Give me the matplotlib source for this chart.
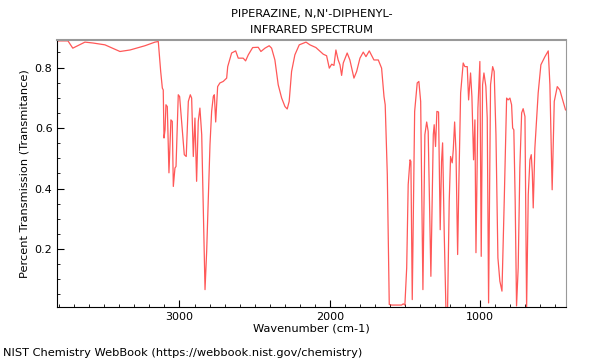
import matplotlib
matplotlib.use("Agg")
import matplotlib.pyplot as plt
from matplotlib.ticker import MultipleLocator

title = "PIPERAZINE, N,N'-DIPHENYL-\nINFRARED SPECTRUM"
xlabel = "Wavenumber (cm-1)"
ylabel = "Percent Transmission (Transmitance)"
footer = "NIST Chemistry WebBook (https://webbook.nist.gov/chemistry)"

wavenumber = [3813, 3742, 3710, 3629, 3575, 3496, 3396, 3329, 3230, 3163, 3141, 3125, 3114, 3108,
              3103, 3096, 3090, 3081, 3070, 3057, 3048, 3041, 3030, 3023, 3008, 2999, 2968, 2955,
              2941, 2928, 2919, 2908, 2897, 2886, 2875, 2864, 2852, 2830, 2819, 2797, 2786, 2775,
              2768, 2759, 2746, 2731, 2709, 2686, 2679, 2653, 2626, 2609, 2576, 2560, 2542, 2513,
              2476, 2458, 2431, 2403, 2387, 2365, 2343, 2320, 2298, 2283, 2270, 2254, 2232, 2203,
              2158, 2132, 2092, 2043, 2021, 2003, 1987, 1972, 1959, 1944, 1932, 1921, 1910, 1884,
              1866, 1839, 1821, 1799, 1777, 1759, 1737, 1706, 1677, 1655, 1639, 1631, 1617, 1604,
              1588, 1522, 1511, 1500, 1488, 1478, 1466, 1460, 1451, 1435, 1418, 1407, 1395, 1387,
              1380, 1367, 1355, 1345, 1327, 1311, 1305, 1296, 1287, 1276, 1265, 1256, 1249, 1238,
              1227, 1216, 1205, 1196, 1185, 1178, 1169, 1160, 1149, 1141, 1129, 1112, 1101, 1085,
              1076, 1063, 1054, 1043, 1034, 1027, 1014, 1001, 992, 983, 974, 961, 952, 943, 930,
              916, 906, 894, 881, 868, 854, 839, 823, 813, 801, 790, 783, 775, 766, 757, 746, 735,
              723, 713, 701, 690, 679, 668, 659, 652, 646, 635, 613, 595, 568, 546, 535, 520, 506,
              486, 469, 431]
transmittance = [0.888, 0.888, 0.864, 0.884, 0.881, 0.875, 0.853, 0.858, 0.872, 0.884, 0.886, 0.787,
                 0.732, 0.726, 0.567, 0.594, 0.677, 0.671, 0.452, 0.627, 0.622, 0.407, 0.468, 0.473,
                 0.710, 0.704, 0.512, 0.506, 0.688, 0.710, 0.699, 0.506, 0.633, 0.424, 0.622, 0.666,
                 0.578, 0.066, 0.193, 0.545, 0.655, 0.704, 0.710, 0.620, 0.737, 0.749, 0.754, 0.765,
                 0.803, 0.848, 0.855, 0.831, 0.831, 0.822, 0.842, 0.866, 0.867, 0.853, 0.864, 0.872,
                 0.864, 0.825, 0.743, 0.699, 0.671, 0.663, 0.688, 0.787, 0.842, 0.875, 0.884, 0.875,
                 0.866, 0.844, 0.839, 0.798, 0.811, 0.807, 0.858, 0.825, 0.809, 0.774, 0.815, 0.848,
                 0.825, 0.765, 0.787, 0.831, 0.851, 0.836, 0.855, 0.825, 0.825, 0.798, 0.704, 0.677,
                 0.446, 0.017, 0.015, 0.015, 0.019, 0.015, 0.138, 0.413, 0.495, 0.490, 0.033, 0.655,
                 0.749, 0.754, 0.688, 0.358, 0.066, 0.578, 0.620, 0.589, 0.110, 0.578, 0.611, 0.539,
                 0.655, 0.653, 0.264, 0.490, 0.551, 0.248, 0.005, 0.005, 0.358, 0.506, 0.485, 0.528,
                 0.620, 0.523, 0.182, 0.413, 0.716, 0.815, 0.803, 0.803, 0.693, 0.782, 0.704, 0.495,
                 0.627, 0.188, 0.666, 0.820, 0.176, 0.743, 0.782, 0.737, 0.633, 0.022, 0.743, 0.803,
                 0.787, 0.578, 0.171, 0.094, 0.061, 0.358, 0.699, 0.693, 0.699, 0.677, 0.600, 0.594,
                 0.358, 0.012, 0.138, 0.468, 0.650, 0.664, 0.638, 0.005, 0.380, 0.495, 0.512, 0.452,
                 0.336, 0.534, 0.716, 0.809, 0.836, 0.855, 0.743, 0.396, 0.688, 0.737, 0.726, 0.660]

xticks = [3000, 2000, 1000]
yticks = [0.2, 0.4, 0.6, 0.8]

fs = 8.2
fig = plt.figure(figsize=(6, 3.6), dpi=100)
ax = fig.add_axes([0.0955, 0.1464, 0.8473, 0.7425])
ax.plot(wavenumber, transmittance, color="#ff2020", lw=0.9, alpha=0.75)
ax.set_xlim(3813, 430)
ax.set_ylim(0.0076, 0.891)
ax.set_xticks(xticks)
ax.set_xticklabels([str(t) for t in xticks])
ax.set_yticks(yticks)
ax.set_yticklabels([f"{t:.1f}" for t in yticks])
ax.xaxis.set_minor_locator(MultipleLocator(100))
ax.yaxis.set_minor_locator(MultipleLocator(0.05))
ax.tick_params(which="both", direction="in", labelsize=8, top=False, right=False)
ax.tick_params(which="major", length=5)
ax.tick_params(which="minor", length=2.5)
for s in ["top", "right"]:
    ax.spines[s].set_color("#999999")
ax.spines["top"].set_linewidth(1.5)
ax.set_xlabel(xlabel, fontsize=fs, labelpad=1)
ax.set_ylabel(ylabel, fontsize=fs, labelpad=4)
fig.text(0.519, 0.94, title, ha="center", va="center", fontsize=fs, linespacing=1.75)
fig.text(0.005, 0.02, footer, ha="left", va="center", fontsize=fs)
fig.savefig("out.png", dpi=100)
